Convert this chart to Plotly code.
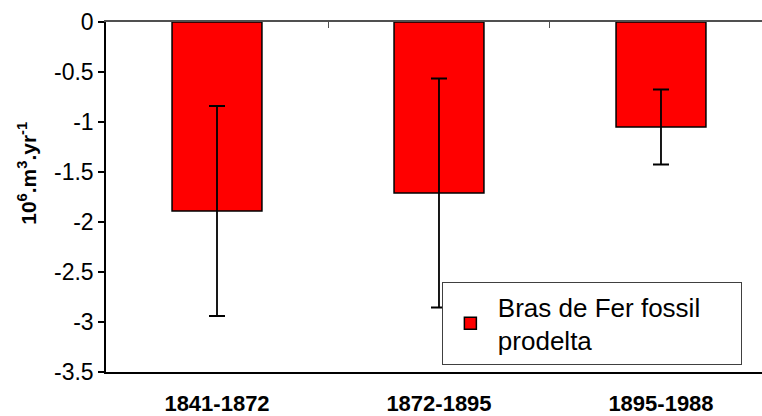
import plotly.graph_objects as go

# Sediment budget of the Bras de Fer fossil prodelta per period
periods = ["1841-1872", "1872-1895", "1895-1988"]
volume_rate = [-1.89, -1.71, -1.05]       # 10^6 m3/yr
volume_err = [1.05, 1.145, 0.375]         # symmetric uncertainty
series_name = "Bras de Fer fossil<br>prodelta"
y_ticks = [0, -0.5, -1, -1.5, -2, -2.5, -3, -3.5]
y_tick_text = ["0", "-0.5", "-1", "-1.5", "-2", "-2.5", "-3", "-3.5"]

FONT = "Liberation Sans, Arial, sans-serif"
x_range = [-0.5, 2.455]

fig = go.Figure()

fig.add_trace(go.Bar(
    x=periods,
    y=volume_rate,
    name=series_name,
    marker=dict(color="#FF0000", line=dict(color="#000000", width=1.5)),
    error_y=dict(type="data", array=volume_err, visible=True,
                 color="#000000", thickness=1.8, width=8),
    width=0.405,
))

# helper trace so the top (zero) category axis carries its boundary ticks
fig.add_trace(go.Scatter(
    x=periods, y=volume_rate, xaxis="x2", mode="markers",
    marker=dict(opacity=0), showlegend=False, hoverinfo="skip",
))

fig.update_layout(
    width=762, height=416,
    margin=dict(l=106, r=0, t=22, b=44),
    paper_bgcolor="white", plot_bgcolor="white",
    font=dict(family=FONT, color="#000000"),
    showlegend=True,
    legend=dict(
        x=0.512, y=0.257, xanchor="left", yanchor="top",
        orientation="h", entrywidth=238,
        bgcolor="white", bordercolor="#404040", borderwidth=1,
        font=dict(size=26, family=FONT, color="#000000"),
        itemwidth=45,
    ),
    xaxis=dict(
        type="category", range=x_range, automargin=False,
        showline=True, linecolor="#000000", linewidth=2,
        ticks="", showgrid=False,
        tickfont=dict(size=22, family=FONT, color="#000000", weight="bold"),
        ticklabelstandoff=11,
    ),
    xaxis2=dict(
        type="category", overlaying="x", side="top", range=x_range,
        automargin=False,
        showline=True, linecolor="#505050", linewidth=1.5,
        ticks="inside", tickson="boundaries", ticklen=6,
        tickcolor="#505050", tickwidth=1,
        showticklabels=False, showgrid=False,
    ),
    yaxis=dict(
        range=[-3.5, 0], tickvals=y_ticks, ticktext=y_tick_text,
        automargin=False,
        showline=True, linecolor="#000000", linewidth=1.5,
        ticks="outside", ticklen=6, tickwidth=1.5, tickcolor="#000000",
        showgrid=False, zeroline=False,
        tickfont=dict(size=23, family=FONT, color="#000000"),
    ),
    annotations=[dict(
        text="10<sup>6</sup>.m<sup>3</sup>.yr<sup>-1</sup>",
        textangle=-90, xref="paper", yref="paper",
        x=-0.1205, y=0.569, xanchor="center", yanchor="middle",
        showarrow=False,
        font=dict(size=21, family=FONT, color="#000000", weight="bold"),
    )],
)

fig.write_html("out.html")
